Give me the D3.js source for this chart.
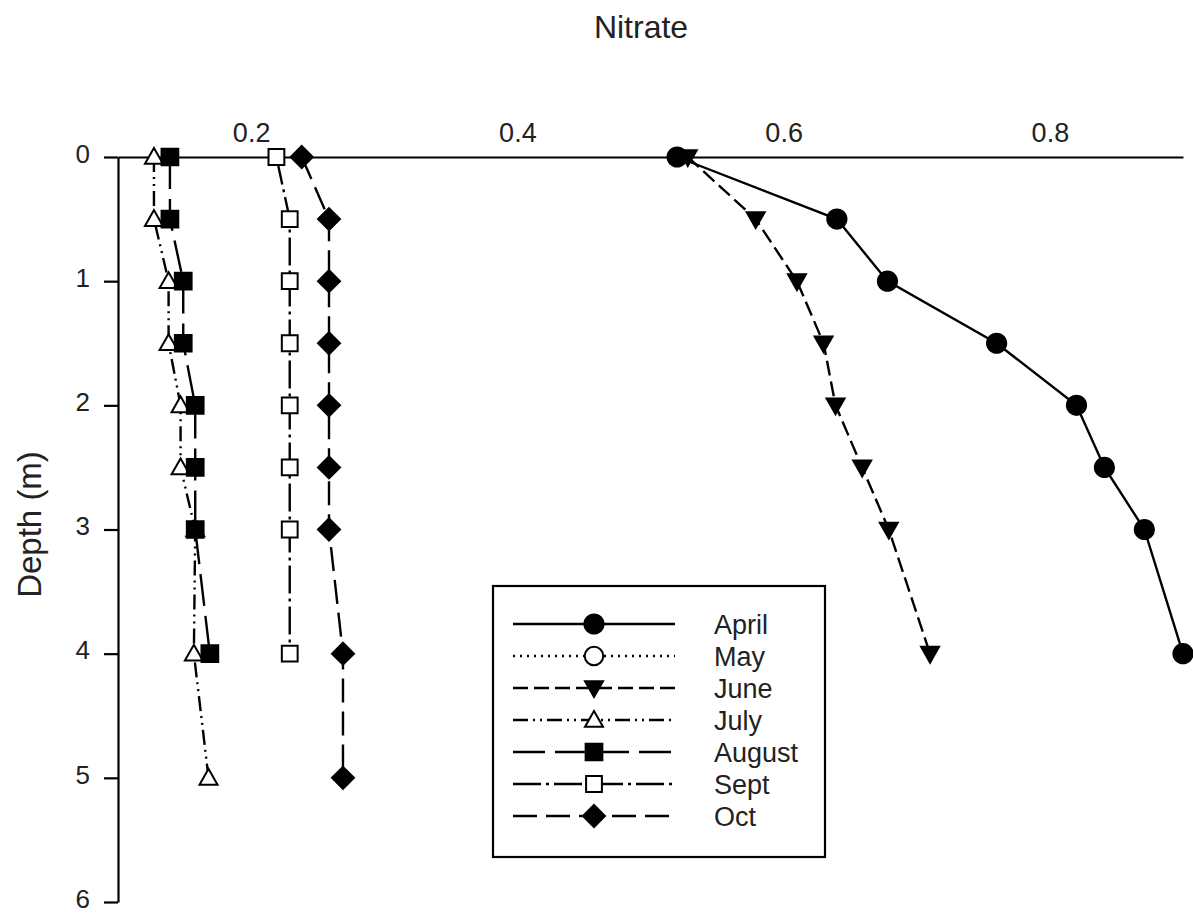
<!DOCTYPE html>
<html>
<head>
<meta charset="utf-8">
<script src="https://cdn.jsdelivr.net/npm/d3@7"></script>
<style>
  html, body { margin: 0; padding: 0; background: #fff; }
  svg { display: block; font-family: "Liberation Sans", Arial, sans-serif; }
</style>
</head>
<body>
<svg id="chart" width="1193" height="913"></svg>
<script>
// Nitrate concentration by depth, one profile per month
const months = ["April", "May", "June", "July", "August", "Sept", "Oct"];

const aprilDepth = [0, 0.5, 1, 1.5, 2, 2.5, 3, 4];
const aprilNitrate = [0.520, 0.640, 0.678, 0.760, 0.820, 0.841, 0.871, 0.900];

const mayDepth = [];
const mayNitrate = [];

const juneDepth = [0, 0.5, 1, 1.5, 2, 2.5, 3, 4];
const juneNitrate = [0.528, 0.579, 0.610, 0.630, 0.639, 0.659, 0.679, 0.710];

const julyDepth = [0, 0.5, 1, 1.5, 2, 2.5, 3, 4, 5];
const julyNitrate = [0.127, 0.127, 0.138, 0.138, 0.147, 0.147, 0.158, 0.157, 0.168];

const augustDepth = [0, 0.5, 1, 1.5, 2, 2.5, 3, 4];
const augustNitrate = [0.139, 0.139, 0.149, 0.149, 0.158, 0.158, 0.158, 0.169];

const septDepth = [0, 0.5, 1, 1.5, 2, 2.5, 3, 4];
const septNitrate = [0.219, 0.229, 0.229, 0.229, 0.229, 0.229, 0.229, 0.229];

const octDepth = [0, 0.5, 1, 1.5, 2, 2.5, 3, 4, 5];
const octNitrate = [0.238, 0.2585, 0.2585, 0.2585, 0.2585, 0.2585, 0.2585, 0.269, 0.269];

const xTicks = [0.2, 0.4, 0.6, 0.8];
const yTicks = [0, 1, 2, 3, 4, 5, 6];

// line dash and marker per month
const styles = {
  April:  { dash: null,                 symbol: d3.symbolCircle,   size: 290, fill: "#000" },
  May:    { dash: "2,5",                symbol: d3.symbolCircle,   size: 270, fill: "#fff" },
  June:   { dash: "15,6",               symbol: "triDown",         size: 18,  fill: "#000" },
  July:   { dash: "15,5,2,5,2,5",       symbol: "triUp",           size: 18,  fill: "#fff" },
  August: { dash: "32,10",              symbol: d3.symbolSquare,   size: 280, fill: "#000" },
  Sept:   { dash: "28,5,3,5",           symbol: d3.symbolSquare,   size: 250, fill: "#fff" },
  Oct:    { dash: "24,9",               symbol: "diamond",         size: 11,  fill: "#000" }
};

const seriesTable = [
  { name: "April",  depth: aprilDepth,  value: aprilNitrate },
  { name: "May",    depth: mayDepth,    value: mayNitrate },
  { name: "June",   depth: juneDepth,   value: juneNitrate },
  { name: "July",   depth: julyDepth,   value: julyNitrate },
  { name: "August", depth: augustDepth, value: augustNitrate },
  { name: "Sept",   depth: septDepth,   value: septNitrate },
  { name: "Oct",    depth: octDepth,    value: octNitrate }
].map(s => ({ name: s.name, points: s.depth.map((d, i) => ({ depth: d, v: s.value[i] })) }));

const svg = d3.select("#chart");

const x = d3.scaleLinear().domain([0.1, 0.9]).range([118, 1183]);
const y = d3.scaleLinear().domain([0, 6]).range([157, 902]);

function markerPath(st) {
  if (st.symbol === "triDown") {
    const s = st.size;
    return `M${-s/2},${-s*0.38} L${s/2},${-s*0.38} L0,${s*0.5} Z`;
  }
  if (st.symbol === "triUp") {
    const s = st.size;
    return `M${-s/2},${s*0.38} L${s/2},${s*0.38} L0,${-s*0.5} Z`;
  }
  if (st.symbol === "diamond") {
    const r = st.size;
    return `M0,${-r} L${r},0 L0,${r} L${-r},0 Z`;
  }
  return d3.symbol().type(st.symbol).size(st.size)();
}

// axes
const topAxis = svg.append("g")
  .attr("transform", `translate(0,${y(0)})`)
  .call(d3.axisTop(x).tickValues(xTicks).tickSize(0).tickPadding(15)
    .tickFormat(d3.format(".1f")));
topAxis.select(".domain").attr("stroke-width", 2.2);
topAxis.selectAll("text").attr("font-size", 27).attr("fill", "#222")
  .attr("font-family", "Liberation Sans, Arial, sans-serif");

const leftAxis = svg.append("g")
  .attr("transform", `translate(${x(0.1)},0)`)
  .call(d3.axisLeft(y).tickValues(yTicks).tickSize(14).tickSizeOuter(0).tickPadding(14)
    .tickFormat(d3.format("d")));
leftAxis.select(".domain").attr("stroke-width", 2.2);
leftAxis.selectAll(".tick line").attr("stroke-width", 2.2);
leftAxis.selectAll("text").attr("font-size", 26).attr("fill", "#222")
  .attr("dy", "0.2em")
  .attr("font-family", "Liberation Sans, Arial, sans-serif");

// titles
svg.append("text")
  .attr("x", 641).attr("y", 38)
  .attr("text-anchor", "middle")
  .attr("font-size", 32).attr("fill", "#222")
  .text("Nitrate");

svg.append("text")
  .attr("transform", `translate(41,${(y(0) + y(6)) / 2 - 5}) rotate(-90)`)
  .attr("text-anchor", "middle")
  .attr("font-size", 33).attr("fill", "#222")
  .text("Depth (m)");

// profiles
const line = d3.line().x(d => x(d.v)).y(d => y(d.depth));

const plot = svg.append("g");
seriesTable.forEach(s => {
  const st = styles[s.name];
  const g = plot.append("g");
  g.append("path")
    .datum(s.points)
    .attr("d", line)
    .attr("fill", "none")
    .attr("stroke", "#000")
    .attr("stroke-width", 2.4)
    .attr("stroke-dasharray", st.dash);
  g.selectAll("path.mk")
    .data(s.points)
    .join("path")
    .attr("class", "mk")
    .attr("transform", d => `translate(${x(d.v)},${y(d.depth)})`)
    .attr("d", markerPath(st))
    .attr("fill", st.fill)
    .attr("stroke", "#000")
    .attr("stroke-width", 2);
});

// legend
const legend = svg.append("g");
legend.append("rect")
  .attr("x", 493).attr("y", 586).attr("width", 332).attr("height", 271)
  .attr("fill", "#fff").attr("stroke", "#000").attr("stroke-width", 2.2);

months.forEach((m, i) => {
  const st = styles[m];
  const cy = 624 + i * 32;
  legend.append("line")
    .attr("x1", 513).attr("x2", 675).attr("y1", cy).attr("y2", cy)
    .attr("stroke", "#000").attr("stroke-width", 2.4)
    .attr("stroke-dasharray", st.dash);
  legend.append("path")
    .attr("transform", `translate(594,${cy})`)
    .attr("d", markerPath(st))
    .attr("fill", st.fill).attr("stroke", "#000").attr("stroke-width", 2);
  legend.append("text")
    .attr("x", 714).attr("y", cy + 10)
    .attr("font-size", 27).attr("fill", "#222")
    .text(m);
});
</script>
</body>
</html>
